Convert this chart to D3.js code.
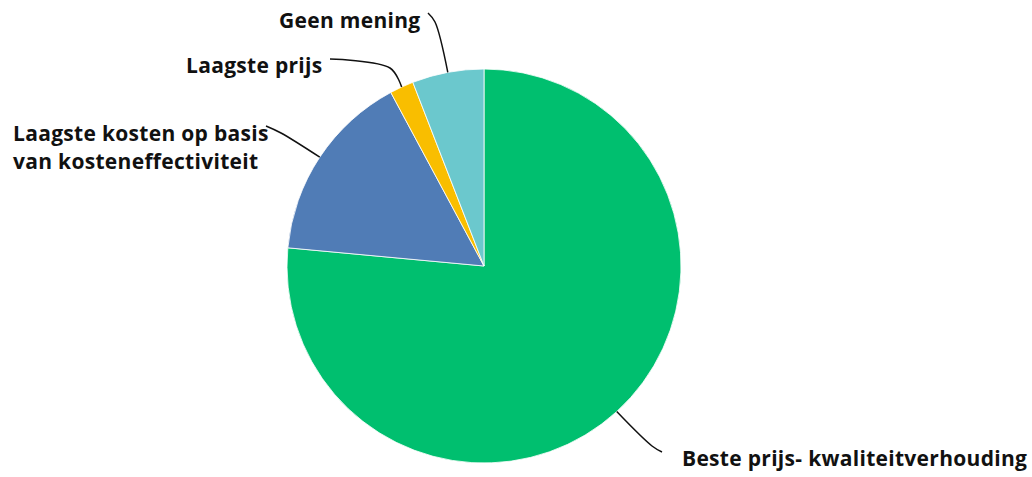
<!DOCTYPE html>
<html>
<head>
<meta charset="utf-8">
<script src="https://cdn.jsdelivr.net/npm/d3@7/dist/d3.min.js"></script>
<style>
  html, body { margin: 0; padding: 0; background: #fff; }
  svg { display: block; }
  .lbl { font-family: "Open Sans", sans-serif; font-weight: 700; font-size: 21px; letter-spacing: 0.3px; fill: #111; }
</style>
</head>
<body>
<svg id="chart" width="1032" height="477"></svg>
<script>
// Answers, clockwise from 12 o'clock
const categories = [
  "Beste prijs- kwaliteitverhouding",
  "Laagste kosten op basis van kosteneffectiviteit",
  "Laagste prijs",
  "Geen mening"
];
const responses = [39, 8, 1, 3];
const colors = ["#00BF6F", "#507CB6", "#F9BE00", "#6BC8CD"];

// Label text lines
const labelLines = [
  ["Beste prijs- kwaliteitverhouding"],
  ["Laagste kosten op basis", "van kosteneffectiviteit"],
  ["Laagste prijs"],
  ["Geen mening"]
];

// Label placement and leader-line routing (start near text, bend point)
const labelLayout = [
  { x: 682, y: 466, start: [662, 452], bend: [652, 446] },
  { x: 13,  y: 141, start: [266, 126], bend: [281, 133] },
  { x: 186, y: 73,  start: [330, 59],  bend: [390, 68] },
  { x: 279, y: 28,  start: [428, 13],  bend: [435, 22] }
];

const svg = d3.select("#chart");
const cx = 484, cy = 266, r = 197;
const g = svg.append("g").attr("transform", `translate(${cx},${cy})`);

const pie = d3.pie().sort(null).value(d => d)(responses);
const arc = d3.arc().innerRadius(0).outerRadius(r);

g.selectAll("path.slice")
  .data(pie)
  .join("path")
  .attr("class", "slice")
  .attr("d", arc)
  .attr("fill", (d, i) => colors[i])
  .attr("stroke", "#fff")
  .attr("stroke-width", 0.8);

// Leader lines from label to the middle of each slice's rim
const line = d3.line().curve(d3.curveCatmullRom.alpha(0.5));
pie.forEach((d, i) => {
  const mid = (d.startAngle + d.endAngle) / 2;
  const end = [cx + r * Math.sin(mid), cy - r * Math.cos(mid)];
  const L = labelLayout[i];
  svg.append("path")
    .attr("d", line([L.start, L.bend, end]))
    .attr("fill", "none")
    .attr("stroke", "#111")
    .attr("stroke-width", 1.5);
});

// Labels
labelLines.forEach((lines, i) => {
  const L = labelLayout[i];
  const t = svg.append("text").attr("class", "lbl").attr("x", L.x).attr("y", L.y);
  lines.forEach((s, k) => {
    t.append("tspan").attr("x", L.x).attr("dy", k === 0 ? 0 : 28).text(s);
  });
});
</script>
</body>
</html>
